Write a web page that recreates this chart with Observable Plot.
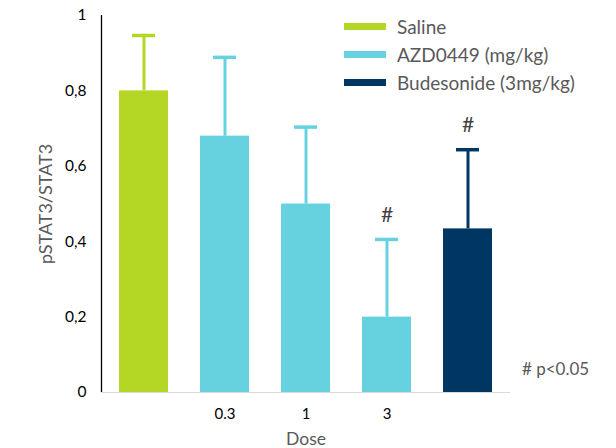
<!DOCTYPE html>
<html><head><meta charset="utf-8">
<script src="https://cdn.jsdelivr.net/npm/d3@7"></script>
<script src="https://cdn.jsdelivr.net/npm/@observablehq/plot@0.6"></script>
<style>
body{margin:0;background:#fff;font-family:Lato,"Open Sans",sans-serif;}
#wrap{position:relative;width:616px;height:448px;}
#legend{position:absolute;left:344px;top:12px;font-size:19px;color:#595959;}
.item{display:flex;align-items:center;height:28px;}
.sw{width:42px;height:7px;margin-right:11px;}
#note{position:absolute;left:522px;top:358px;font-size:17px;color:#595959;}
</style></head>
<body><div id="wrap"><div id="chart"></div>
<div id="legend"></div><div id="note"># p&lt;0.05</div></div>
<script>
const categories = ["Saline","0.3","1","3","Budesonide"];
const tickLabels = ["","0.3","1","3",""];
const groups = ["Saline","AZD0449","AZD0449","AZD0449","Budesonide"];
const values = [0.80, 0.68, 0.50, 0.20, 0.434];
const errTops = [0.947, 0.889, 0.704, 0.406, 0.644];
const marks = ["","","","#","#"];
const legendLabels = ["Saline","AZD0449 (mg/kg)","Budesonide (3mg/kg)"];
const legendGroups = ["Saline","AZD0449","Budesonide"];
const colors = ["#b4d624","#67d2df","#003662"];

const data = categories.map((c,i)=>({cat:c, group:groups[i], value:values[i], err:errTops[i], mark:marks[i]}));
const color = d3.scaleOrdinal(legendGroups, colors);

const chart = Plot.plot({
  width:616, height:448,
  marginLeft:101, marginRight:106, marginTop:15, marginBottom:56,
  style:{fontFamily:"Lato, 'Open Sans', sans-serif", color:"#000"},
  x:{domain:categories, paddingInner:0.39, paddingOuter:0.195, label:null},
  y:{domain:[0,1], label:null},
  marks:[
    Plot.barY(data,{x:"cat", y:"value", fill:d=>color(d.group)}),
    Plot.ruleX(data,{x:"cat", y1:"value", y2:"err", stroke:d=>color(d.group), strokeWidth:3}),
    Plot.tickY(data,{x:"cat", y:"err", stroke:d=>color(d.group), strokeWidth:3.5, insetLeft:13, insetRight:13}),
    Plot.text(data,{x:"cat", y:"err", text:"mark", dy:-24, fontSize:21, fill:"#404040"}),
    Plot.ruleY([0],{stroke:"#d9d9d9", strokeWidth:1}),
    Plot.axisY({ticks:[0,0.2,0.4,0.6,0.8,1], tickSize:0, tickPadding:15, fontSize:15.5, tickFormat:d=>String(d).replace(".",","), label:null}),
    Plot.axisY({ticks:[], label:"pSTAT3/STAT3", labelAnchor:"center", labelArrow:"none", labelOffset:62, fontSize:18, fill:"#595959"}),
    Plot.axisX({tickSize:0, tickPadding:16, fontSize:15, tickFormat:(d,i)=>tickLabels[categories.indexOf(d)], label:null}),
    Plot.axisX({ticks:[], label:"Dose", labelAnchor:"center", labelArrow:"none", labelOffset:52, fontSize:17.5, fill:"#595959"})
  ]
});
document.getElementById("chart").appendChild(chart);
// left axis domain line, positioned from the plot's own scales
const xs = chart.scale("x"), ys = chart.scale("y");
d3.select(chart).append("line")
  .attr("x1", xs.range[0] + 0.5).attr("x2", xs.range[0] + 0.5)
  .attr("y1", ys.range[0]).attr("y2", ys.range[1])
  .attr("stroke", "#000").attr("stroke-width", 1.3);
const leg = document.getElementById("legend");
legendLabels.forEach((l,i)=>{
  const it=document.createElement("div"); it.className="item";
  const sw=document.createElement("div"); sw.className="sw"; sw.style.background=colors[i];
  const t=document.createElement("span"); t.textContent=l;
  it.appendChild(sw); it.appendChild(t); leg.appendChild(it);
});
</script></body></html>
